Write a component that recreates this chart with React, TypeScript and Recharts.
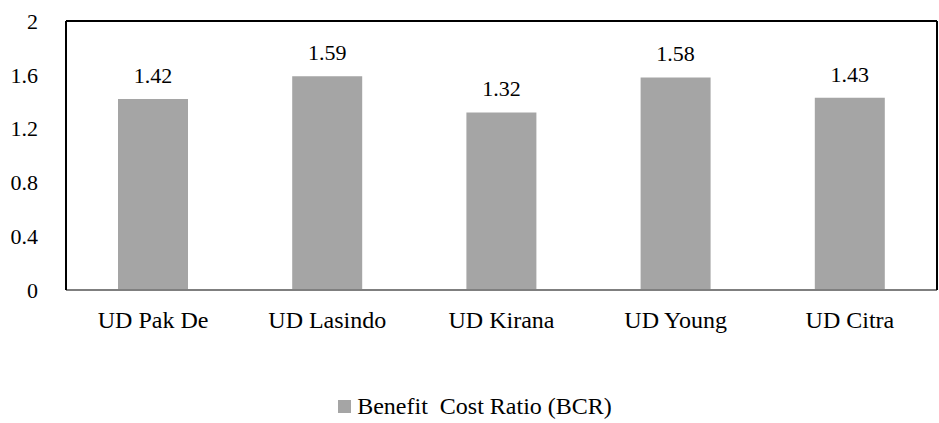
import React from 'react';
import { BarChart, Bar, XAxis, YAxis, Legend, LabelList } from 'recharts';

const categories = ['UD Pak De', 'UD Lasindo', 'UD Kirana', 'UD Young', 'UD Citra'];
const bcrValues = [1.42, 1.59, 1.32, 1.58, 1.43];
const yTicks = [0, 0.4, 0.8, 1.2, 1.6, 2];
const seriesName = 'Benefit  Cost Ratio (BCR)';

const data = categories.map((c, i) => ({ name: c, bcr: bcrValues[i] }));

const FONT = 'Liberation Serif';

const renderLegend = () => (
  <div style={{ display: 'flex', justifyContent: 'center', alignItems: 'center', fontFamily: FONT, fontSize: 24, color: '#000', paddingLeft: 12, paddingTop: 10 }}>
    <span style={{ display: 'inline-block', width: 13, height: 13, background: '#A5A5A5', marginRight: 6 }} />
    <span style={{ whiteSpace: 'pre' }}>{seriesName}</span>
  </div>
);

export default function App() {
  return (
    <div style={{ position: 'absolute', left: 0, top: 0, background: '#fff', fontFamily: FONT }}>
      <BarChart width={939} height={423} data={data} margin={{ top: 20, right: 1, left: 0, bottom: 0 }}>
        <XAxis dataKey="name" xAxisId="b" axisLine={{ stroke: '#7f7f7f', strokeWidth: 2 }} tickLine={false}
          tick={{ fill: '#000', fontSize: 24, fontFamily: FONT }} height={93} tickMargin={15} interval={0} />
        <XAxis dataKey="name" xAxisId="t" orientation="top" height={1} axisLine={{ stroke: '#000', strokeWidth: 2 }} tickLine={false} tick={false} />
        <YAxis yAxisId="l" domain={[0, 2]} ticks={yTicks} width={66} axisLine={{ stroke: '#000', strokeWidth: 2 }} tickLine={false}
          tick={{ fill: '#000', fontSize: 22, fontFamily: FONT }} tickMargin={22} />
        <YAxis yAxisId="r" orientation="right" domain={[0, 2]} width={1} axisLine={{ stroke: '#000', strokeWidth: 2 }} tickLine={false} tick={false} />
        <Legend verticalAlign="bottom" content={renderLegend} wrapperStyle={{ height: 40 }} />
        <Bar dataKey="bcr" name={seriesName} xAxisId="b" yAxisId="l" fill="#A5A5A5" barSize={70} isAnimationActive={false}>
          <LabelList dataKey="bcr" position="top" offset={16} style={{ fill: '#000', fontSize: 22, fontFamily: FONT }} formatter={(v: number) => v.toFixed(2)} />
        </Bar>
      </BarChart>
    </div>
  );
}
